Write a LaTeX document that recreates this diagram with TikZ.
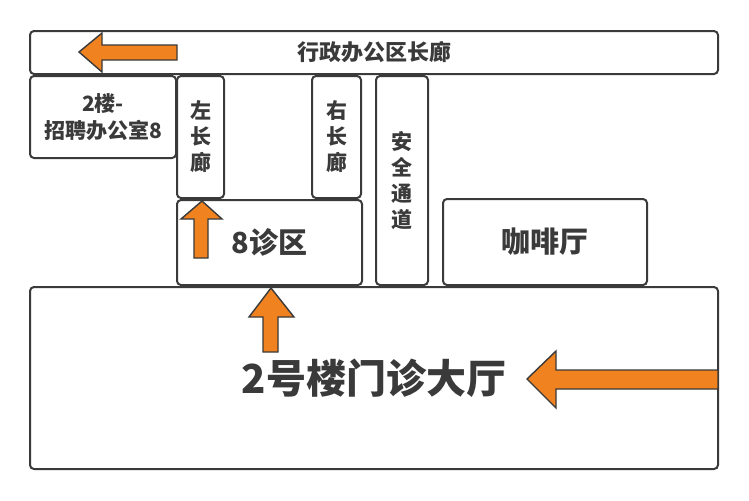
\documentclass[tikz,border=0pt]{standalone}
\usepackage{fontspec}
\setmainfont{Noto Sans CJK SC}
\definecolor{wallgray}{HTML}{3A3A3A}
\definecolor{signorange}{HTML}{F08220}

\begin{document}
\begin{tikzpicture}[x=0.5pt,y=-0.5pt,
	room/.style={draw=wallgray, line width=1pt, rounded corners=2pt, fill=white,
		text=wallgray, font=\bfseries, align=center, inner sep=0pt},
	vroom/.style={room, font=\bfseries\fontsize{10.5}{13}\selectfont},
	pointer/.style={draw=wallgray, line width=0.7pt, fill=signorange, line join=miter}]
	\useasboundingbox (0,0) rectangle (749,500);
	% rooms
	\node[room, minimum width=344pt, minimum height=21.5pt, font=\bfseries\fontsize{11}{13}\selectfont] (corridor) at (374,52.5) {行政办公区长廊};
	\node[room, minimum width=73pt, minimum height=41pt, font=\bfseries\fontsize{10.5}{13.5}\selectfont] (office) at (103,117) {2楼-\\招聘办公室8};
	\node[vroom, minimum width=23.5pt, minimum height=61pt] (leftc) at (200.5,137) {左\\长\\廊};
	\node[vroom, minimum width=24.5pt, minimum height=61pt] (rightc) at (336.5,137) {右\\长\\廊};
	\node[room, minimum width=92.5pt, minimum height=42.5pt, font=\bfseries\fontsize{14.5}{17}\selectfont] (zone) at (269.5,242.5) {8诊区};
	\node[vroom, minimum width=26pt, minimum height=104.5pt] (exit) at (402,180.5) {安\\全\\通\\道};
	\node[room, minimum width=102pt, minimum height=43pt, font=\bfseries\fontsize{14.5}{17}\selectfont] (cafe) at (545,242) {咖啡厅};
	\node[room, minimum width=344pt, minimum height=91pt, font=\bfseries\fontsize{20}{24}\selectfont] (hall) at (374,378) {2号楼门诊大厅};
	% arrows
	\draw[pointer] (79,52) -- (102,33) -- (102,45) -- (177,45) -- (177,60) -- (102,60) -- (102,72) -- cycle;
	\draw[pointer] (202,201) -- (222,219) -- (208,219) -- (208,258) -- (194,258) -- (194,219) -- (181,219) -- cycle;
	\draw[pointer] (271,288) -- (294,317) -- (278,317) -- (278,352) -- (263,352) -- (263,317) -- (249,317) -- cycle;
	\draw[pointer] (527,379) -- (556,351) -- (556,370) -- (718,370) -- (718,389) -- (556,389) -- (556,408) -- cycle;
\end{tikzpicture}
\end{document}
